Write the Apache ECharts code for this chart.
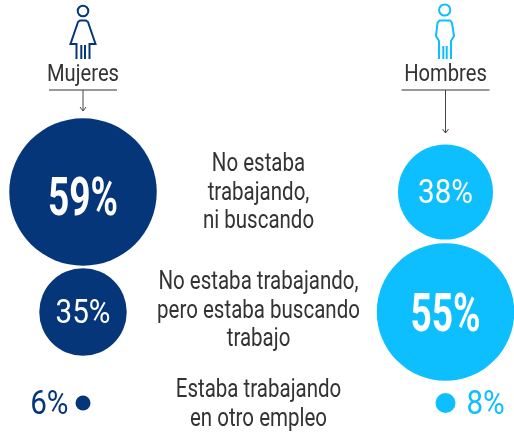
<!DOCTYPE html>
<html><head><meta charset="utf-8">
<style>html,body{margin:0;padding:0;background:#fff}#c{width:514px;height:432px}</style>
<script src="https://cdn.jsdelivr.net/npm/echarts@6/dist/echarts.min.js"></script>
</head><body><div id="c"></div>
<script>
const groups = ['Mujeres', 'Hombres'];
const mujeres = [59, 35, 6];
const hombres = [38, 55, 8];
const categoryLines = [
  ['No estaba', 'trabajando,', 'ni buscando'],
  ['No estaba trabajando,', 'pero estaba buscando', 'trabajo'],
  ['Estaba trabajando', 'en otro empleo']
];
const NAVY = '#06367a', SKY = '#0dbfff', INK = '#333333';
const FONT = 'Roboto,sans-serif';
const rowCenters = [192, 312, 403];
const rowBand = 20;
const chart = echarts.init(document.getElementById('c'), null, {renderer: 'canvas'});

const grids = [], xAxes = [], yAxes = [], series = [];
rowCenters.forEach((c, i) => {
  grids.push({left: 83, right: 68.5, top: c - rowBand, height: rowBand * 2, outerBoundsMode: 'none'});
  xAxes.push({type: 'category', gridIndex: i, data: groups, boundaryGap: false, show: false});
  yAxes.push({type: 'value', gridIndex: i, min: -1, max: 1, show: false});
  [[mujeres, NAVY, -1], [hombres, SKY, 1]].forEach(([arr, col, side], g) => {
    const v = arr[i];
    const big = v >= 50, small = v < 10;
    series.push({
      type: 'scatter', xAxisIndex: i, yAxisIndex: i, silent: true, clip: false,
      symbol: 'circle',
      symbolSize: d => d[2] * 2.5,
      data: [[groups[g], 0, v]],
      itemStyle: {color: col, opacity: 1}
    });
    series.push({
      type: 'custom', xAxisIndex: i, yAxisIndex: i, silent: true, clip: false, z: 5,
      data: [[groups[g], 0, v]],
      encode: {x: 0, y: 1},
      renderItem: (params, api) => {
        const p = api.coord([api.value(0), 0]);
        const val = api.value(2);
        const radius = val * 1.25;
        const offset = small ? (side < 0 ? -(radius + 7) : radius + 11) : 0;
        const dy = big ? (i === 0 ? 10 : 6) : 2;
        return {
          type: 'text',
          x: p[0] + offset, y: p[1] + dy,
          scaleX: big ? 0.7 : 0.87,
          style: {
            text: val + '%',
            fill: small ? col : '#fff',
            font: (big ? 'bold 53px ' : '34px ') + FONT,
            textAlign: small ? (side < 0 ? 'right' : 'left') : 'center',
            textVerticalAlign: 'middle'
          }
        };
      }
    });
  });
});

const textCenters = [[165, 194, 222], [283, 312, 340], [391, 420]];
const TEXT_SCALE = 0.82;
const texts = [];
categoryLines.forEach((lines, i) => lines.forEach((t, j) => texts.push({
  type: 'text', x: 258.5, y: textCenters[i][j], scaleX: TEXT_SCALE,
  style: {text: t, fill: INK, font: '25px ' + FONT, textAlign: 'center', textVerticalAlign: 'middle'}
})));

function header(name, cx, lineHalf, arrowEnd) {
  return [
    {type: 'text', x: cx, y: 75, scaleX: TEXT_SCALE, style: {text: name, fill: INK, font: '24.6px ' + FONT, textAlign: 'center', textVerticalAlign: 'middle'}},
    {type: 'line', shape: {x1: cx - lineHalf, y1: 90, x2: cx + lineHalf, y2: 90}, style: {stroke: '#333', lineWidth: 1}},
    {type: 'line', shape: {x1: cx, y1: 90, x2: cx, y2: arrowEnd}, style: {stroke: '#444', lineWidth: 1}},
    {type: 'polyline', shape: {points: [[cx - 3, arrowEnd - 4], [cx, arrowEnd], [cx + 3, arrowEnd - 4]]}, style: {stroke: '#444', lineWidth: 1, fill: null}}
  ];
}
const sw = 2;
const icons = [
  {type: 'circle', shape: {cx: 83, cy: 11, r: 5.3}, style: {stroke: NAVY, lineWidth: sw, fill: null}},
  {type: 'polyline', shape: {points: [[76.5, 59], [76.5, 44], [70.5, 44], [78, 22], [80, 20.5], [86, 20.5], [88, 22], [95.5, 44], [89.5, 44], [89.5, 59]]}, style: {stroke: NAVY, lineWidth: sw, fill: null}},
  {type: 'line', shape: {x1: 81.3, y1: 45, x2: 81.3, y2: 59}, style: {stroke: NAVY, lineWidth: sw}},
  {type: 'line', shape: {x1: 85, y1: 45, x2: 85, y2: 59}, style: {stroke: NAVY, lineWidth: sw}},
  {type: 'circle', shape: {cx: 444.7, cy: 10, r: 5.6}, style: {stroke: SKY, lineWidth: sw, fill: null}},
  {type: 'polyline', shape: {points: [[439, 59], [439, 41], [436, 36], [437.5, 23], [439.5, 20.5], [450, 20.5], [452, 23], [454, 36], [451, 41], [451, 59]]}, style: {stroke: SKY, lineWidth: sw, fill: null}},
  {type: 'line', shape: {x1: 443.3, y1: 46, x2: 443.3, y2: 59}, style: {stroke: SKY, lineWidth: sw}},
  {type: 'line', shape: {x1: 446.7, y1: 46, x2: 446.7, y2: 59}, style: {stroke: SKY, lineWidth: sw}}
];

chart.setOption({
  animation: false,
  backgroundColor: '#fff',
  grid: grids, xAxis: xAxes, yAxis: yAxes, series,
  graphic: {elements: [...header(groups[0], 83, 34, 111), ...header(groups[1], 445.5, 44, 133), ...icons, ...texts]}
});
</script></body></html>
